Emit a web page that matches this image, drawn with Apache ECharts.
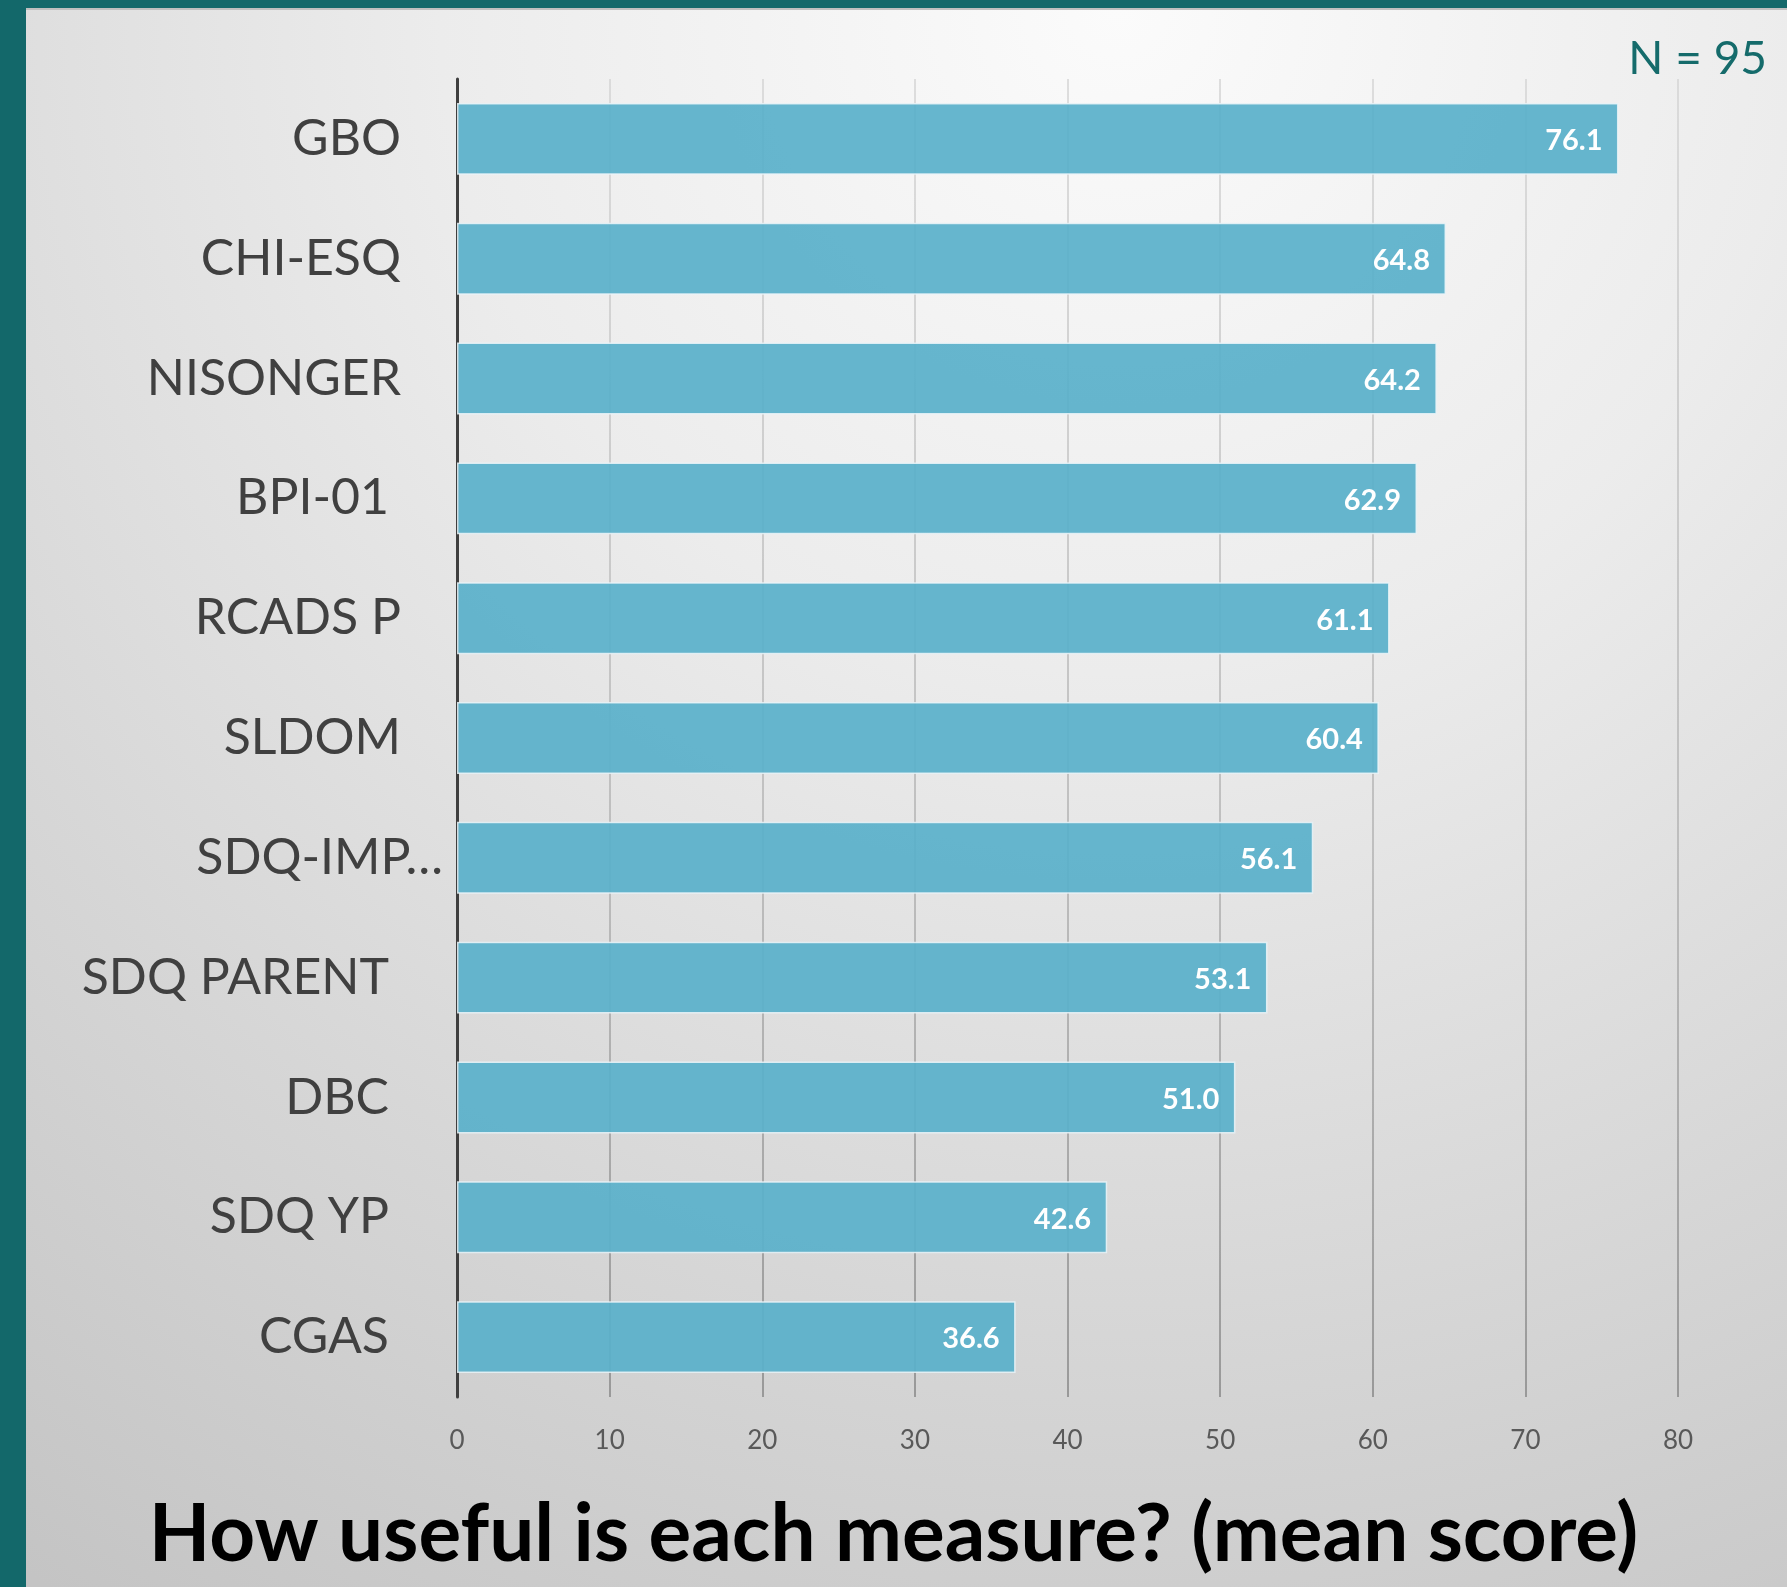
<!DOCTYPE html>
<html>
<head>
<meta charset="utf-8">
<title>How useful is each measure?</title>
<script src="https://cdn.jsdelivr.net/npm/echarts@6/dist/echarts.min.js"></script>
<style>
  html, body { margin: 0; padding: 0; }
  #frame {
    position: relative;
    width: 1787px;
    height: 1587px;
    background: #13686a;
    overflow: hidden;
  }
  #panel {
    position: absolute;
    left: 26px;
    top: 8px;
    right: 0;
    bottom: 0;
    border-top: 2px solid #bfbfbf;
    background: radial-gradient(ellipse 110% 120% at 62% 0%, #fbfbfb 0%, #ececec 35%, #d6d6d6 70%, #c4c4c4 100%);
  }
  #main {
    position: absolute;
    left: 0;
    top: 0;
    width: 1787px;
    height: 1587px;
  }
</style>
</head>
<body>
<div id="frame">
  <div id="panel"></div>
  <div id="main"></div>
</div>
<script>
// measures, top to bottom
var measures = ["GBO", "CHI-ESQ", "NISONGER", "BPI-01", "RCADS P", "SLDOM",
  "SDQ-IMP\u2026", "SDQ PARENT", "DBC", "SDQ YP", "CGAS"];
// mean usefulness score
var meanScores = [76.1, 64.8, 64.2, 62.9, 61.1, 60.4, 56.1, 53.1, 51.0, 42.6, 36.6];
var xTicks = [0, 10, 20, 30, 40, 50, 60, 70, 80];
var sampleSize = 95;

// labels in the original sit a little further from the axis than others
var farLabels = ["BPI-01", "SDQ PARENT", "DBC", "SDQ YP", "CGAS"];
var nearLabels = ["SDQ-IMP\u2026"];

var chart = echarts.init(document.getElementById("main"), null, { renderer: "canvas" });

var labelFont = { fontFamily: "Lato", fontSize: 50, color: "#404040" };

chart.setOption({
  backgroundColor: "transparent",
  animation: false,
  title: [
    {
      text: "N = " + sampleSize,
      right: 15,
      top: 31,
      textStyle: { fontFamily: "Lato", fontWeight: "normal", fontSize: 46, color: "#156b6b" }
    },
    {
      text: "How useful is each measure? (mean score)",
      left: "center",
      top: 1490,
      textStyle: { fontFamily: "Lato", fontWeight: "bold", fontSize: 80, color: "#000000" }
    }
  ],
  grid: { left: 457, right: 109, top: 79, bottom: 190, containLabel: false },
  xAxis: {
    type: "value",
    min: xTicks[0],
    max: xTicks[xTicks.length - 1],
    interval: xTicks[1] - xTicks[0],
    axisLine: { show: false },
    axisTick: { show: false },
    axisLabel: {
      margin: 31,
      fontFamily: "Lato",
      fontSize: 26,
      color: "#595959"
    },
    splitLine: {
      show: true,
      lineStyle: {
        width: 1.5,
        color: new echarts.graphic.LinearGradient(0, 0, 0, 1, [
          { offset: 0, color: "#d4d4d4" },
          { offset: 0.6, color: "#b0b0b0" },
          { offset: 1, color: "#858585" }
        ])
      }
    }
  },
  yAxis: {
    type: "category",
    inverse: true,
    data: measures,
    axisLine: { show: true, lineStyle: { color: "#3f3f3f", width: 3 } },
    axisTick: { show: false },
    axisLabel: {
      margin: 14,
      fontFamily: "Lato",
      fontSize: 50,
      color: "#404040",
      formatter: function (v) {
        if (nearLabels.indexOf(v) >= 0) return "{n|" + v + "}";
        if (farLabels.indexOf(v) >= 0) return "{f|" + v + "}";
        return "{m|" + v + "}";
      },
      rich: {
        n: Object.assign({ padding: [0, 0, 0, 0] }, labelFont),
        m: Object.assign({ padding: [0, 42, 0, 0] }, labelFont),
        f: Object.assign({ padding: [0, 54, 0, 0] }, labelFont)
      }
    }
  },
  series: [
    {
      type: "bar",
      data: meanScores,
      barCategoryGap: "40%",
      itemStyle: {
        color: "rgba(90, 176, 202, 0.93)",
        borderColor: "rgba(235, 245, 248, 0.85)",
        borderWidth: 1.5
      },
      label: {
        show: true,
        position: "insideRight",
        distance: 16,
        offset: [0, 2],
        fontFamily: "Lato",
        fontWeight: "bold",
        fontSize: 29,
        color: "#ffffff",
        formatter: function (p) { return p.value.toFixed(1); }
      }
    }
  ]
});
</script>
</body>
</html>
